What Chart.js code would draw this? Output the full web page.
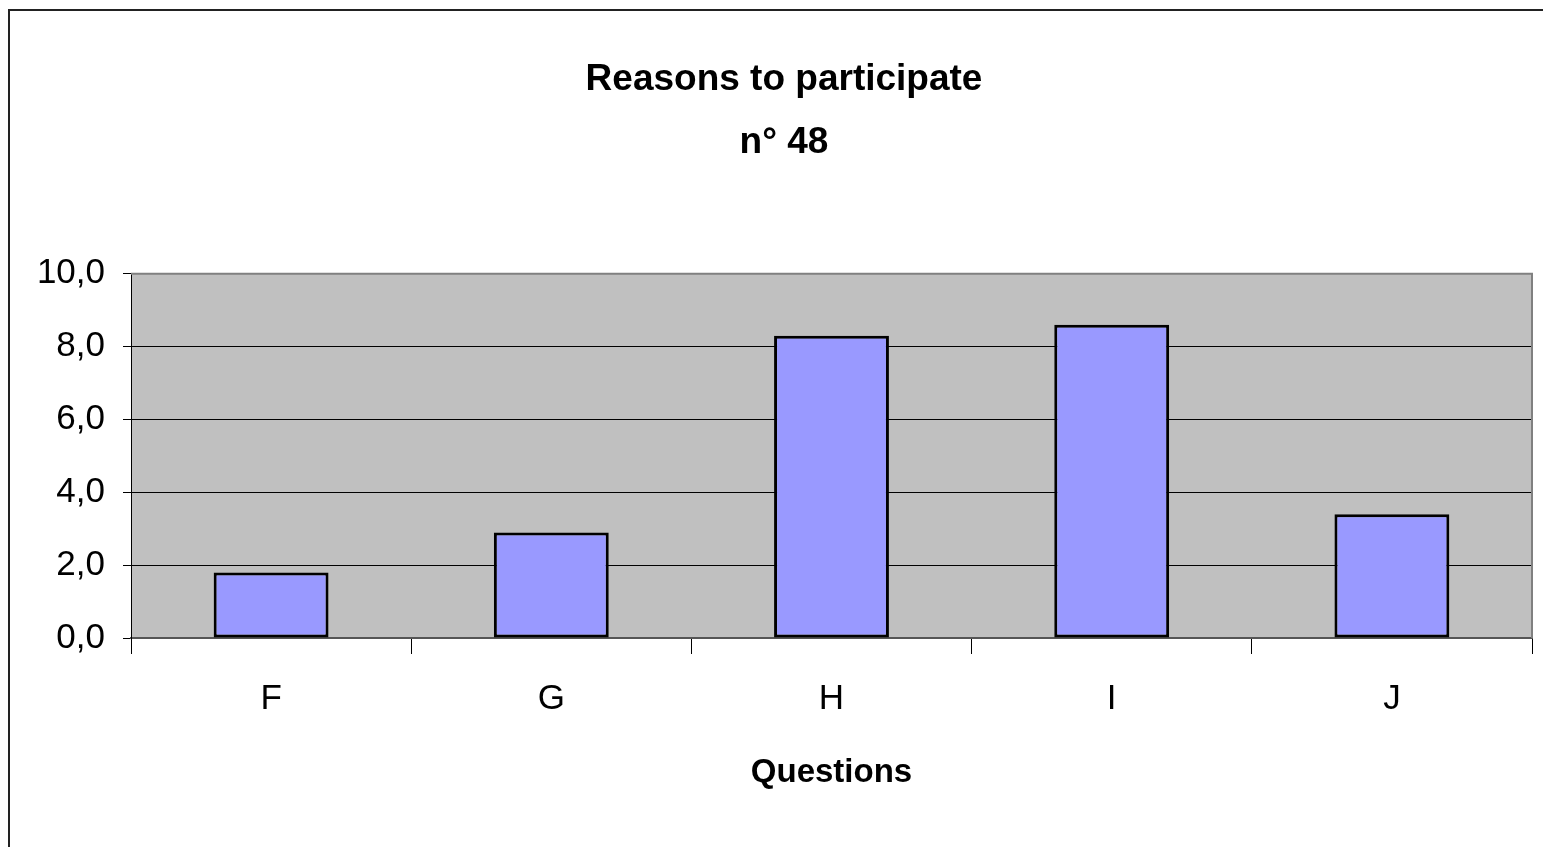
<!DOCTYPE html>
<html>
<head>
<meta charset="utf-8">
<script src="https://cdn.jsdelivr.net/npm/chart.js@4.4.0/dist/chart.umd.min.js"></script>
<style>
  html, body { margin: 0; padding: 0; background: #fff; }
  #wrap { width: 1543px; height: 847px; position: relative; }
</style>
</head>
<body>
<div id="wrap"><canvas id="chart"></canvas></div>
<script>
// data
const questions = ['F', 'G', 'H', 'I', 'J'];
const scores = [1.8, 2.9, 8.3, 8.6, 3.4];
const titleLines = ['Reasons to participate', 'n° 48'];
const xTitle = 'Questions';

const FONT = "'Liberation Sans', Arial, sans-serif";

// outer frame + grey plot background
const framePlugin = {
  id: 'frame',
  beforeDraw(chart) {
    const { ctx, chartArea: a } = chart;
    ctx.save();
    ctx.fillStyle = '#C0C0C0';
    ctx.fillRect(a.left, a.top, a.right - a.left, a.bottom - a.top);
    ctx.strokeStyle = '#222';
    ctx.lineWidth = 2;
    ctx.beginPath();
    ctx.moveTo(9, 847);
    ctx.lineTo(9, 10);
    ctx.lineTo(1543, 10);
    ctx.stroke();
    ctx.restore();
  },
  afterDatasetsDraw(chart) {
    const { ctx, chartArea: a } = chart;
    ctx.save();
    ctx.strokeStyle = '#808080';
    ctx.lineWidth = 2;
    ctx.beginPath();
    ctx.moveTo(a.left, a.top);
    ctx.lineTo(a.right, a.top);
    ctx.lineTo(a.right, a.bottom);
    ctx.stroke();
    ctx.restore();
  }
};

new Chart(document.getElementById('chart'), {
  type: 'bar',
  data: {
    labels: questions,
    datasets: [{
      data: scores,
      backgroundColor: '#9999FF',
      borderColor: '#000',
      borderWidth: 3,
      borderSkipped: false,
      categoryPercentage: 1,
      barPercentage: 0.41
    }]
  },
  options: {
    responsive: true,
    maintainAspectRatio: false,
    animation: false,
    layout: { padding: { left: 36, right: 11, top: 0, bottom: 0 } },
    plugins: {
      legend: { display: false },
      tooltip: { enabled: false },
      title: {
        display: true,
        text: titleLines,
        color: '#000',
        font: { family: FONT, size: 37, weight: 'bold', lineHeight: 1.7 },
        padding: { top: 48, bottom: 100 }
      }
    },
    scales: {
      x: {
        grid: { display: true, drawOnChartArea: false, offset: true, color: '#000', tickLength: 16, lineWidth: 1 },
        border: { display: true, color: '#555', width: 2 },
        ticks: { color: '#000', font: { family: FONT, size: 35 }, padding: 24 },
        title: {
          display: true,
          text: xTitle,
          color: '#000',
          font: { family: FONT, size: 33, weight: 'bold', lineHeight: 1.2 },
          padding: { top: 10, bottom: 54 }
        },
        afterFit(scale) { scale.height = 209; }
      },
      y: {
        min: 0,
        max: 10,
        grid: { color: '#000', lineWidth: 1, tickLength: 8 },
        border: { display: true, color: '#000', width: 1 },
        ticks: {
          stepSize: 2,
          color: '#000',
          font: { family: FONT, size: 35 },
          padding: 18,
          callback: v => v.toFixed(1).replace('.', ',')
        },
        afterFit(scale) { scale.width = 95; }
      }
    }
  },
  plugins: [framePlugin]
});
</script>
</body>
</html>
